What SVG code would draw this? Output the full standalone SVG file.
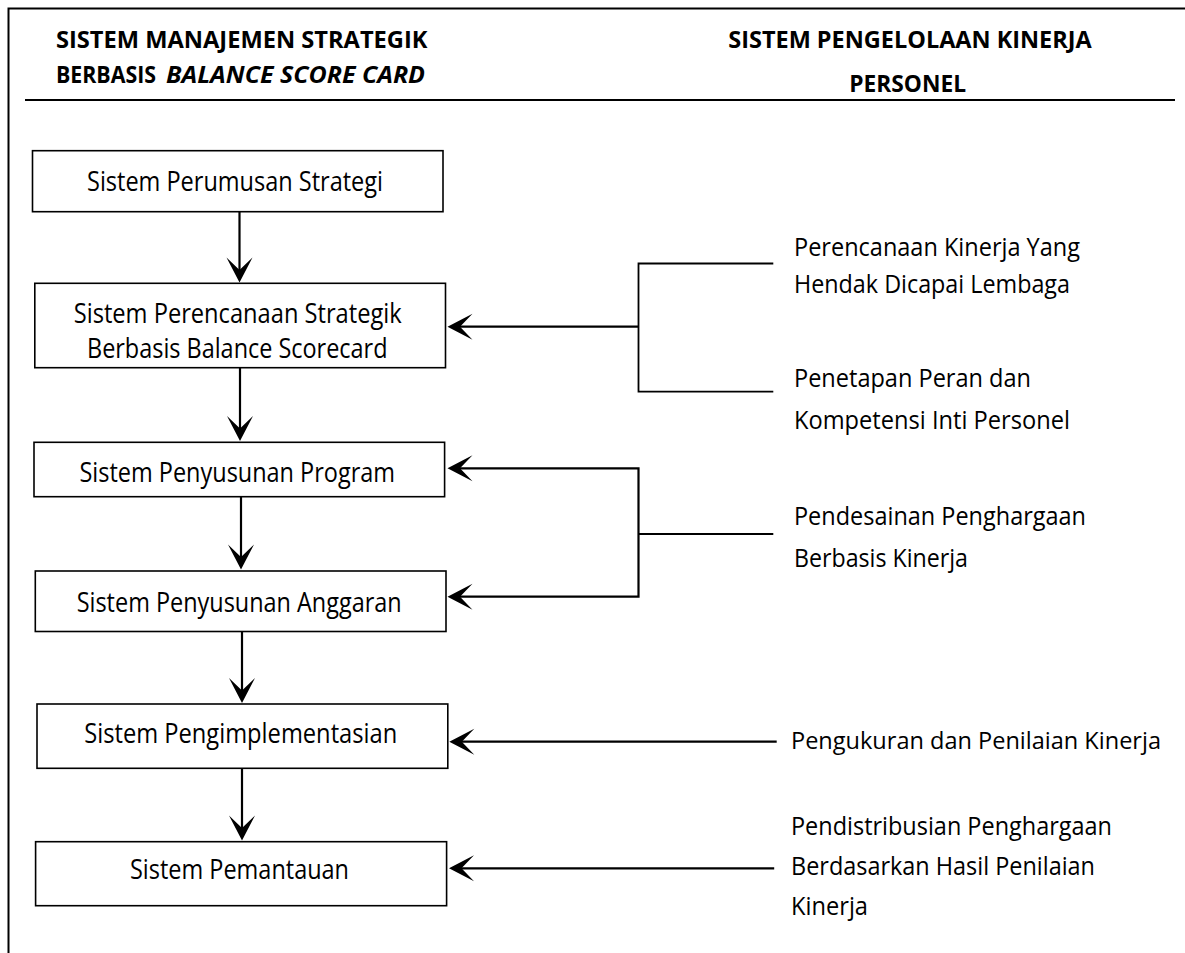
<svg xmlns="http://www.w3.org/2000/svg" width="1185" height="953" viewBox="0 0 1185 953">
<style>
.bg{fill:#ffffff}
.box{fill:#ffffff;stroke:#000000;stroke-width:1.6}
.frame{fill:none;stroke:#000000;stroke-width:2}
.t{font-family:"Open Sans","Noto Sans","Liberation Sans",sans-serif;font-size:28px;fill:#000000}
.r{font-family:"Open Sans","Noto Sans","Liberation Sans",sans-serif;font-size:26px;fill:#000000}
.rs{font-size:24px}
.h{font-family:"Open Sans","Noto Sans","Liberation Sans",sans-serif;font-size:22.5px;font-weight:bold;fill:#000000}
.h2{font-family:"Open Sans","Noto Sans","Liberation Sans",sans-serif;font-size:23.5px;font-weight:bold;fill:#000000}
.it{font-style:italic}
.ln{fill:none;stroke:#000000;stroke-width:1.8}
.ar{fill:none;stroke:#000000;stroke-width:2.2;marker-end:url(#ah)}
</style>
<defs>
<marker id="ah" viewBox="-27 -15 30 30" refX="-12" refY="0" markerWidth="30" markerHeight="30" markerUnits="userSpaceOnUse" orient="auto">
<path d="M0,0 L-25,-13 L-12.5,0 L-25,13 Z" fill="#000000"/>
</marker>
</defs>
<rect class="bg" x="0" y="0" width="1185" height="953"/>
<g id="frame">
<path class="frame" d="M8.5,953 L8.5,8.5 L1185,8.5"/>
<line class="frame" x1="25" y1="100" x2="1175" y2="100"/>
</g>
<g id="header-left">
<text class="h" x="56" y="48.3" textLength="371.5" lengthAdjust="spacingAndGlyphs">SISTEM MANAJEMEN STRATEGIK</text>
<text class="h" x="56" y="83.3" textLength="100" lengthAdjust="spacingAndGlyphs">BERBASIS</text>
<text class="h it" x="166" y="83.3" textLength="259" lengthAdjust="spacingAndGlyphs">BALANCE SCORE CARD</text>
</g>
<g id="header-right">
<text class="h2" x="728.3" y="48.3" textLength="363.4" lengthAdjust="spacingAndGlyphs">SISTEM PENGELOLAAN KINERJA</text>
<text class="h2" x="849.3" y="91.7" textLength="116.7" lengthAdjust="spacingAndGlyphs">PERSONEL</text>
</g>
<g id="connectors">
<line class="ar" x1="239.5" y1="211.7" x2="239.5" y2="270.5"/>
<line class="ar" x1="240" y1="367.7" x2="240" y2="429"/>
<line class="ar" x1="241" y1="496.7" x2="241" y2="557.5"/>
<line class="ar" x1="242" y1="631.5" x2="242" y2="691"/>
<line class="ar" x1="242" y1="768.3" x2="242" y2="828.5"/>
<path class="ln" d="M773.3,263.5 L638.5,263.5 L638.5,391.7 L773.3,391.7"/>
<line class="ar" x1="638.5" y1="326.7" x2="459.5" y2="326.7"/>
<path class="ar" d="M638.5,534 L638.5,468.3 L459.5,468.3"/>
<path class="ar" d="M638.5,534 L638.5,596.7 L459.5,596.7"/>
<line class="ln" x1="638.5" y1="534" x2="773.3" y2="534"/>
<line class="ar" x1="776.7" y1="741.7" x2="461.3" y2="741.7"/>
<line class="ar" x1="774.2" y1="868.3" x2="461" y2="868.3"/>
</g>
<g id="n1">
<rect class="box" x="32.5" y="150.7" width="410.5" height="61"/>
<text class="t" x="87" y="191" textLength="296" lengthAdjust="spacingAndGlyphs">Sistem Perumusan Strategi</text>
</g>
<g id="n2">
<rect class="box" x="34.8" y="283.3" width="410.7" height="84.4"/>
<text class="t" x="73.7" y="323" textLength="328" lengthAdjust="spacingAndGlyphs">Sistem Perencanaan Strategik</text>
<text class="t" x="87" y="358" textLength="300.5" lengthAdjust="spacingAndGlyphs">Berbasis Balance Scorecard</text>
</g>
<g id="n3">
<rect class="box" x="34" y="442.3" width="410.6" height="54.4"/>
<text class="t" x="79.5" y="481.7" textLength="315.5" lengthAdjust="spacingAndGlyphs">Sistem Penyusunan Program</text>
</g>
<g id="n4">
<rect class="box" x="35.3" y="571" width="410.7" height="60.5"/>
<text class="t" x="76.7" y="611.7" textLength="325" lengthAdjust="spacingAndGlyphs">Sistem Penyusunan Anggaran</text>
</g>
<g id="n5">
<rect class="box" x="37" y="704" width="410.8" height="64.3"/>
<text class="t" x="84.2" y="743.3" textLength="313" lengthAdjust="spacingAndGlyphs">Sistem Pengimplementasian</text>
</g>
<g id="n6">
<rect class="box" x="35.6" y="841.7" width="411" height="64"/>
<text class="t" x="130" y="879.3" textLength="219" lengthAdjust="spacingAndGlyphs">Sistem Pemantauan</text>
</g>
<g id="r1">
<text class="r" x="794" y="255.7" textLength="286" lengthAdjust="spacingAndGlyphs">Perencanaan Kinerja Yang</text>
<text class="r" x="794" y="293.3" textLength="276" lengthAdjust="spacingAndGlyphs">Hendak Dicapai Lembaga</text>
</g>
<g id="r2">
<text class="r" x="794" y="386.7" textLength="237" lengthAdjust="spacingAndGlyphs">Penetapan Peran dan</text>
<text class="r" x="794" y="429.3" textLength="276" lengthAdjust="spacingAndGlyphs">Kompetensi Inti Personel</text>
</g>
<g id="r3">
<text class="r" x="794" y="525" textLength="292" lengthAdjust="spacingAndGlyphs">Pendesainan Penghargaan</text>
<text class="r" x="794" y="567.3" textLength="174" lengthAdjust="spacingAndGlyphs">Berbasis Kinerja</text>
</g>
<g id="r4">
<text class="r rs" x="791" y="749.3" textLength="370" lengthAdjust="spacingAndGlyphs">Pengukuran dan Penilaian Kinerja</text>
</g>
<g id="r5">
<text class="r" x="791" y="835" textLength="321" lengthAdjust="spacingAndGlyphs">Pendistribusian Penghargaan</text>
<text class="r" x="791" y="875" textLength="304" lengthAdjust="spacingAndGlyphs">Berdasarkan Hasil Penilaian</text>
<text class="r" x="791" y="915" textLength="77" lengthAdjust="spacingAndGlyphs">Kinerja</text>
</g>
</svg>
